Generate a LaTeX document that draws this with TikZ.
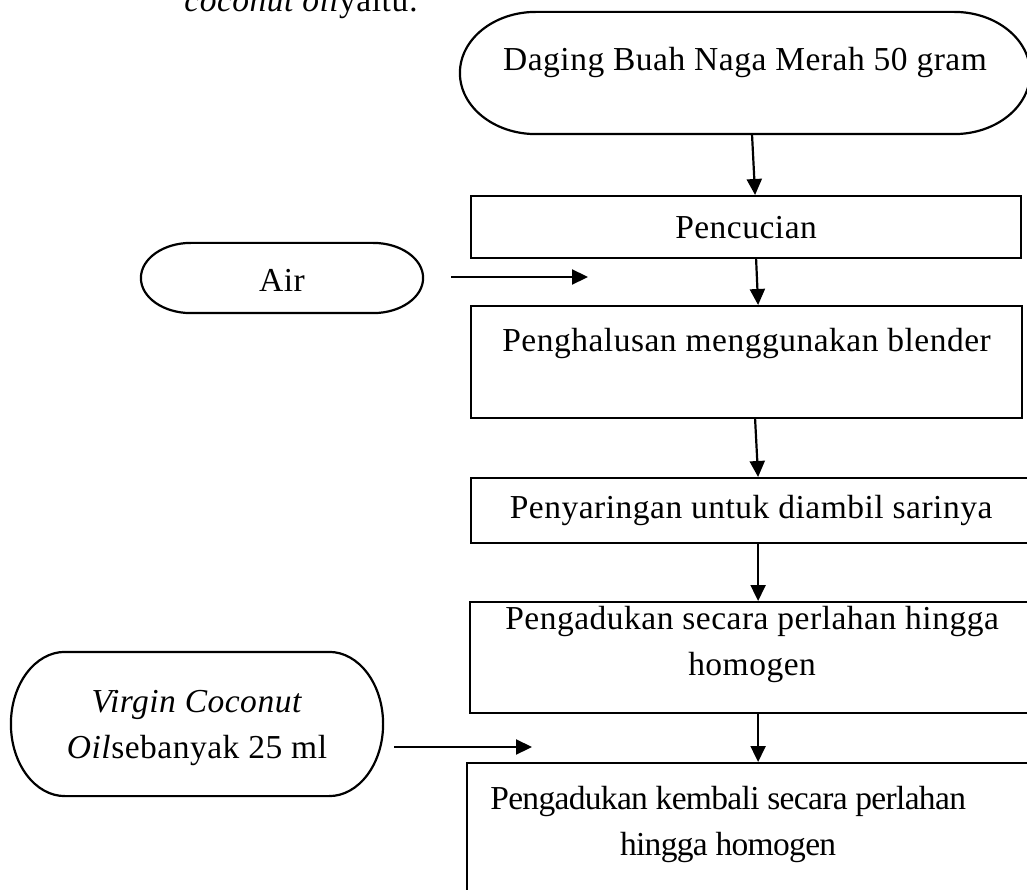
\documentclass[tikz,border=0pt]{standalone}
\usepackage{fontspec}
\setmainfont{Liberation Serif}[LetterSpace=1.5]
\usetikzlibrary{arrows.meta,calc}

% outline of a terminator around a node, #2 = x radius of the ends
\newcommand{\termshape}[2]{%
  \draw let \p1=(#1.north west), \p2=(#1.south east), \n1={(\y1-\y2)/2} in
    (\x1+#2pt,\y1) -- (\x2-#2pt,\y1)
    arc[start angle=90, end angle=-90, x radius=#2pt, y radius=\n1]
    -- (\x1+#2pt,\y2)
    arc[start angle=270, end angle=90, x radius=#2pt, y radius=\n1] -- cycle;}

\begin{document}
\begin{tikzpicture}[x=1pt, y=-1pt, line width=2.2pt,
  font=\fontsize{33.5}{46}\selectfont,
  box/.style={draw, rectangle, inner sep=0pt, anchor=north west, align=center},
  term/.style={rectangle, inner sep=0pt, align=center},
  lift/.style 2 args={text height=#1, text depth=#2},
  flow/.style={-{Triangle[length=16pt,width=15pt]}}]
\path[use as bounding box, clip] (0,0) rectangle (1027,890);
\node[anchor=base west] (intro) at (180,12) {\textit{coconut oil}yaitu:};
\node[term, minimum width=568pt, minimum height=120pt, lift={0pt}{4pt}] (daging) at (745,73) {Daging Buah Naga Merah 50 gram};
\termshape{daging}{76}
\node[box, minimum width=550pt, minimum height=62pt, lift={22pt}{0pt}] (cuci) at (470,195) {Pencucian};
\node[term, minimum width=280pt, minimum height=68pt, lift={28pt}{0pt}] (air) at (282,278) {Air};
\termshape{air}{50}
\node[box, minimum width=551pt, minimum height=112pt, lift={0pt}{22pt}] (blend) at (470,305) {Penghalusan menggunakan blender};
\node[box, minimum width=560pt, minimum height=65pt, lift={15pt}{0pt}] (saring) at (470,477) {Penyaringan untuk diambil sarinya};
\node[box, minimum width=564pt, minimum height=111pt, lift={35pt}{0pt}] (aduk) at (469,601) {Pengadukan secara perlahan hingga\\homogen};
\node[term, minimum width=370pt, minimum height=142pt, lift={68pt}{0pt}] (vco) at (197,724) {\textit{Virgin Coconut}\\\textit{Oil}sebanyak 25 ml};
\termshape{vco}{54}
\node[box, minimum width=574pt, minimum height=188pt, lift={0pt}{4pt},
  font=\fontsize{33.5}{46}\selectfont\addfontfeature{LetterSpace=-2}] (akhir) at (466,762) {Pengadukan kembali secara perlahan\hspace*{52pt}\\hingga homogen\hspace*{52pt}};
\coordinate (airend) at (588,277);
\coordinate (vcoend) at (532,747);
\draw[flow] ($(daging.south)+(7,0)$) -- ($(cuci.north)+(9,0)$);
\draw[flow] ($(cuci.south)+(10,0)$) -- ($(blend.north)+(11.5,0)$);
\draw[flow] ($(blend.south)+(8.5,0)$) -- ($(saring.north)+(7,0)$);
\draw[flow] ($(saring.south)+(7,0)$) -- ($(aduk.north)+(6,0)$);
\draw[flow] ($(aduk.south)+(6,0)$) -- ($(akhir.north)+(4,0)$);
\draw[flow] ($(air.east)+(28,-1)$) -- (airend);
\draw[flow] ($(vco.east)+(11,23)$) -- (vcoend);
\end{tikzpicture}
\end{document}
